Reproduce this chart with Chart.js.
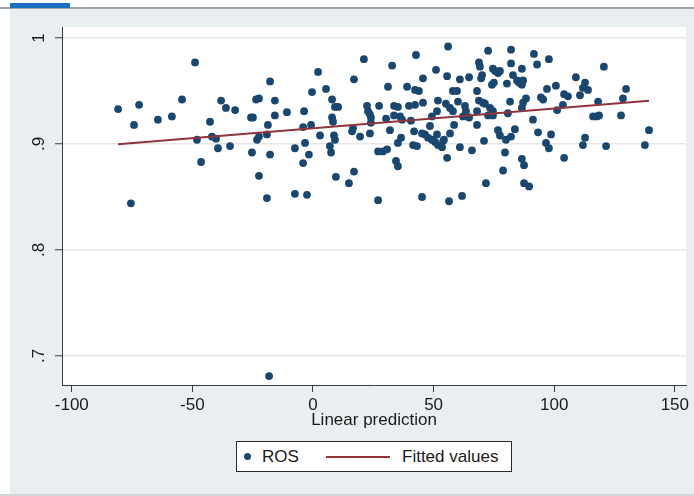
<!DOCTYPE html>
<html>
<head>
<meta charset="utf-8">
<script src="https://cdn.jsdelivr.net/npm/chart.js@4/dist/chart.umd.min.js"></script>
<style>
  html, body { margin:0; padding:0; background:#ffffff; }
  #wrap { position:relative; width:694px; height:496px; overflow:hidden; }
  canvas { position:absolute; left:0; top:0; }
  .abs { position:absolute; }
  #legend { left:236px; top:441px; width:276px; height:31px; border:1px solid #2a2a2a; background:#fff; box-sizing:border-box;
            font-family:"Liberation Sans", Arial, sans-serif; font-size:17px; color:#1a1a1a; }
  #legend span { position:absolute; top:0; line-height:29px; }
</style>
</head>
<body>
<div id="wrap">
  <canvas id="c" width="694" height="496"></canvas>
  <div class="abs" style="left:0;top:7px;width:694px;height:2px;background:#9aa6ad;"></div>
  <div class="abs" style="left:10px;top:3px;width:60px;height:5px;background:#1b6ec2;"></div>
  <div id="legend" class="abs">
    <div class="abs" style="left:7px;top:11px;width:7px;height:7px;border-radius:50%;background:#1a476f;"></div>
    <span style="left:25px;">ROS</span>
    <div class="abs" style="left:89px;top:14px;width:64px;height:2px;background:#90353b;"></div>
    <span style="left:165px;">Fitted values</span>
  </div>
</div>
<script>
// ---- data ----
const rosX = [
 -80.8,-72.1,-74.2,-75.5,-64.3,-58.5,-54.3,-48.9,-48.1,-46.4,-42.7,-41.9,-40.2,-39.4,-38.1,-36.1,-34.4,-32.3,
 -25.7,-24.9,-25.3,-23.6,-22.4,-23.2,-22.4,-22.4,-19.1,-18.7,-17.8,-17.8,-15.8,-15.8,-19.1,-18.2,-10.8,-7.5,-7.5,
 -3.7,-4.1,-3.3,-4.1,-2.5,-1.7,-0.8,-0.4,2.1,2.9,5.4,7.0,7.5,7.9,7.9,8.3,8.7,9.1,9.1,10.4,9.5,14.9,17.0,16.2,16.6,
 17.0,19.5,21.1,22.4,22.8,23.6,24.0,24.0,23.6,27.0,27.0,27.4,29.0,30.7,30.3,31.9,31.1,32.8,33.6,35.2,33.6,36.1,
 36.9,34.4,35.2,35.2,36.5,39.0,39.8,40.6,41.9,41.5,43.1,42.3,43.9,42.7,42.3,45.6,45.2,45.6,45.2,46.4,47.7,48.5,
 49.3,50.6,51.8,53.5,54.0,51.4,49.3,51.0,51.8,51.4,55.6,55.6,55.1,56.8,58.0,56.0,56.4,58.0,59.7,60.1,58.5,56.8,
 54.3,60.9,60.9,61.8,63.0,63.4,62.2,64.7,63.4,64.7,65.9,68.0,68.0,68.8,68.0,68.8,69.2,70.1,69.7,70.5,71.3,70.9,
 71.7,72.6,73.4,74.6,72.6,74.6,74.2,75.0,74.6,75.5,76.7,77.5,76.7,77.5,80.0,82.1,78.8,79.6,80.4,80.8,81.7,82.1,
 82.1,82.9,84.6,85.4,86.6,87.1,83.7,86.6,87.5,86.6,87.1,88.3,87.5,89.6,86.6,91.2,91.6,92.9,93.3,94.5,95.4,97.0,
 96.6,97.8,97.8,98.7,100.7,101.2,103.6,104.1,105.7,104.1,109.0,110.7,111.9,112.8,114.0,111.9,112.8,116.1,117.7,
 118.6,118.2,120.6,121.5,127.7,128.5,129.8,137.6,139.3
];
const rosY = [
 0.933,0.937,0.918,0.844,0.923,0.926,0.942,0.977,0.904,0.883,0.921,0.907,0.905,0.896,0.941,0.934,0.898,0.932,
 0.925,0.925,0.892,0.942,0.943,0.904,0.907,0.870,0.909,0.918,0.959,0.890,0.941,0.927,0.849,0.681,0.930,0.896,0.853,
 0.931,0.916,0.901,0.882,0.852,0.890,0.918,0.949,0.968,0.908,0.952,0.898,0.892,0.925,0.942,0.921,0.908,0.904,0.935,0.935,0.869,0.863,0.874,0.912,0.915,
 0.961,0.907,0.980,0.936,0.931,0.928,0.925,0.920,0.910,0.847,0.893,0.936,0.893,0.895,0.924,0.913,0.954,0.974,0.936,0.935,0.927,0.926,
 0.923,0.884,0.879,0.901,0.906,0.954,0.936,0.922,0.912,0.899,0.898,0.951,0.950,0.984,0.937,0.939,0.850,0.962,0.910,0.909,0.906,0.917,
 0.904,0.902,0.899,0.897,0.903,0.909,0.926,0.970,0.941,0.931,0.887,0.964,0.938,0.934,0.931,0.992,0.846,0.950,0.950,0.940,0.918,0.910,
 0.904,0.961,0.897,0.851,0.936,0.931,0.926,0.925,0.927,0.963,0.894,0.918,0.931,0.941,0.950,0.977,0.973,0.965,0.962,0.939,0.938,0.903,
 0.863,0.988,0.934,0.931,0.927,0.927,0.956,0.958,0.971,0.969,0.967,0.969,0.913,0.908,0.904,0.907,0.875,0.892,0.957,0.929,0.940,0.989,
 0.976,0.965,0.960,0.958,0.956,0.960,0.914,0.886,0.880,0.934,0.939,0.943,0.863,0.860,0.971,0.923,0.985,0.975,0.911,0.944,0.942,0.952,
 0.901,0.896,0.980,0.909,0.955,0.932,0.937,0.947,0.945,0.887,0.963,0.946,0.953,0.958,0.951,0.899,0.906,0.926,0.926,
 0.927,0.940,0.973,0.898,0.927,0.943,0.952,0.899,0.913
];
const fitX = [-80.8, 139.3];
const fitY = [0.8997, 0.9409];
const xTicks = [-100, -50, 0, 50, 100, 150];
const xTickLabels = ["-100", "-50", "0", "50", "100", "150"];
const yTicks = [0.7, 0.8, 0.9, 1.0];
const yTickLabels = [".7", ".8", ".9", "1"];
const xTitle = "Linear prediction";

const FONT = '"Liberation Sans", Arial, sans-serif';
const AXIS = '#3c3c3c';

const bgPlugin = {
  id: 'bg',
  beforeDraw(chart) {
    const {ctx, chartArea: a} = chart;
    ctx.save();
    ctx.fillStyle = '#ffffff';
    ctx.fillRect(0, 0, 694, 496);
    ctx.fillStyle = '#e9eff1';
    ctx.fillRect(10, 9, 684, 485);
    ctx.fillStyle = '#d2d6d8';
    ctx.fillRect(0, 494, 694, 2);
    ctx.fillStyle = '#ffffff';
    ctx.fillRect(a.left, a.top, a.right - a.left, a.bottom - a.top);
    ctx.restore();
  },
  afterDraw(chart) {
    const {ctx} = chart;
    const ys = chart.scales.y;
    ctx.save();
    ctx.font = '17px ' + FONT;
    ctx.fillStyle = '#1a1a1a';
    ctx.textAlign = 'center';
    ctx.textBaseline = 'alphabetic';
    yTicks.forEach((v, i) => {
      const py = ys.getPixelForValue(v);
      ctx.save();
      ctx.translate(44, py);
      ctx.rotate(-Math.PI / 2);
      ctx.fillText(yTickLabels[i], 0, 0);
      ctx.restore();
    });
    ctx.restore();
  }
};

new Chart(document.getElementById('c'), {
  type: 'scatter',
  data: {
    datasets: [
      {
        type: 'line',
        label: 'Fitted values',
        data: fitX.map((x, i) => ({x: x, y: fitY[i]})),
        borderColor: '#90353b',
        borderWidth: 2,
        pointRadius: 0,
        fill: false,
        order: 0
      },
      {
        type: 'scatter',
        label: 'ROS',
        data: rosX.map((x, i) => ({x: x, y: rosY[i]})),
        pointRadius: 3.9,
        pointBackgroundColor: '#1a476f',
        pointBorderColor: '#1a476f',
        pointBorderWidth: 0,
        order: 1
      }
    ]
  },
  options: {
    responsive: false,
    animation: false,
    devicePixelRatio: 1,
    layout: { padding: { left: 10, top: 27, right: 8, bottom: 65 } },
    plugins: { legend: { display: false }, tooltip: { enabled: false } },
    scales: {
      x: {
        type: 'linear',
        min: -104.06,
        max: 154.64,
        afterBuildTicks: s => { s.ticks = xTicks.map(v => ({value: v})); },
        afterFit: s => { s.height = 46; },
        ticks: {
          callback: (v) => xTickLabels[xTicks.indexOf(v)],
          font: { family: FONT, size: 17 },
          color: '#1a1a1a',
          padding: 3,
          maxRotation: 0,
          minRotation: 0
        },
        grid: { drawOnChartArea: false, drawTicks: true, tickLength: 7, tickColor: AXIS, tickWidth: 1 },
        border: { display: true, color: AXIS, width: 1 },
        title: { display: true, text: xTitle, font: { family: FONT, size: 17 }, color: '#1a1a1a', padding: 0 }
      },
      y: {
        type: 'linear',
        min: 0.6726,
        max: 1.0104,
        afterBuildTicks: s => { s.ticks = yTicks.map(v => ({value: v})); },
        afterFit: s => { s.width = 52; },
        ticks: { display: false },
        grid: { drawOnChartArea: true, color: '#e6e6e6', lineWidth: 1.5, drawTicks: true, tickLength: 7, tickColor: AXIS, tickWidth: 1 },
        border: { display: true, color: AXIS, width: 1 }
      }
    }
  },
  plugins: [bgPlugin]
});
</script>
</body>
</html>
